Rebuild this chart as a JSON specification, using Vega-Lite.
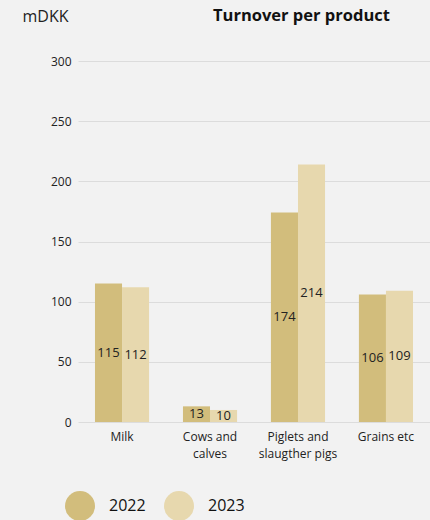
{
  "$schema": "https://vega.github.io/schema/vega-lite/v6.json",
  "autosize": {"type": "none"},
  "width": 352,
  "height": 361,
  "padding": {"left": 78, "top": 61, "right": 0, "bottom": 98},
  "background": "#f2f2f2",
  "config": {
    "view": {"stroke": null},
    "font": "Open Sans",
    "axis": {"labelFont": "Open Sans", "titleFont": "Open Sans"}
  },
  "title": {
    "text": "Turnover per product",
    "anchor": "start",
    "frame": "group",
    "dx": 135,
    "dy": 28,
    "font": "Open Sans",
    "fontSize": 16.5,
    "fontWeight": "bold",
    "color": "#111111",
    "baseline": "middle",
    "offset": 4
  },
  "data": {
    "values": [
      {"product": "Milk", "year": "2022", "value": 115},
      {"product": "Milk", "year": "2023", "value": 112},
      {"product": "Cows and calves", "year": "2022", "value": 13},
      {"product": "Cows and calves", "year": "2023", "value": 10},
      {"product": "Piglets and slaugther pigs", "year": "2022", "value": 174},
      {"product": "Piglets and slaugther pigs", "year": "2023", "value": 214},
      {"product": "Grains etc", "year": "2022", "value": 106},
      {"product": "Grains etc", "year": "2023", "value": 109}
    ]
  },
  "encoding": {
    "x": {
      "field": "product",
      "type": "nominal",
      "sort": null,
      "scale": {"paddingInner": 0.385, "paddingOuter": 0.193},
      "axis": {
        "title": null,
        "domain": false,
        "ticks": false,
        "labelAngle": 0,
        "labelFontSize": 12,
        "labelColor": "#222222",
        "labelPadding": 9,
        "labelLineHeight": 17,
        "labelExpr": "datum.value == 'Cows and calves' ? ['Cows and', 'calves'] : datum.value == 'Piglets and slaugther pigs' ? ['Piglets and', 'slaugther pigs'] : datum.value"
      }
    },
    "xOffset": {"field": "year", "type": "nominal", "scale": {"paddingInner": 0, "paddingOuter": 0}}
  },
  "layer": [
    {
      "mark": {"type": "bar"},
      "encoding": {
        "y": {
          "field": "value",
          "type": "quantitative",
          "scale": {"domain": [0, 300]},
          "axis": {
            "values": [0, 50, 100, 150, 200, 250, 300],
            "domain": false,
            "ticks": false,
            "grid": true,
            "gridColor": "#dcdcdc",
            "labelFontSize": 12,
            "labelColor": "#222222",
            "labelPadding": 7,
            "title": "mDKK",
            "titleAngle": 0,
            "titleAlign": "left",
            "titleBaseline": "middle",
            "titleX": -56,
            "titleY": -45,
            "titleFontSize": 16,
            "titleFontWeight": "normal",
            "titleColor": "#222222"
          }
        },
        "color": {
          "field": "year",
          "type": "nominal",
          "scale": {"domain": ["2022", "2023"], "range": ["#d2bd7c", "#e7d8ae"]},
          "legend": {
            "title": null,
            "orient": "none",
            "direction": "horizontal",
            "legendX": -14,
            "legendY": 429,
            "symbolType": "circle",
            "symbolSize": 900,
            "symbolOpacity": 1,
            "labelFontSize": 16,
            "labelColor": "#111111",
            "labelOffset": 13,
            "columnPadding": 17,
            "padding": 0
          }
        }
      }
    },
    {
      "mark": {"type": "text", "fontSize": 13, "color": "#222222", "baseline": "middle"},
      "encoding": {
        "y": {"field": "value", "type": "quantitative", "scale": {"domain": [0, 600]}, "axis": null},
        "text": {"field": "value", "type": "quantitative"}
      }
    }
  ],
  "resolve": {"scale": {"y": "independent"}}
}
